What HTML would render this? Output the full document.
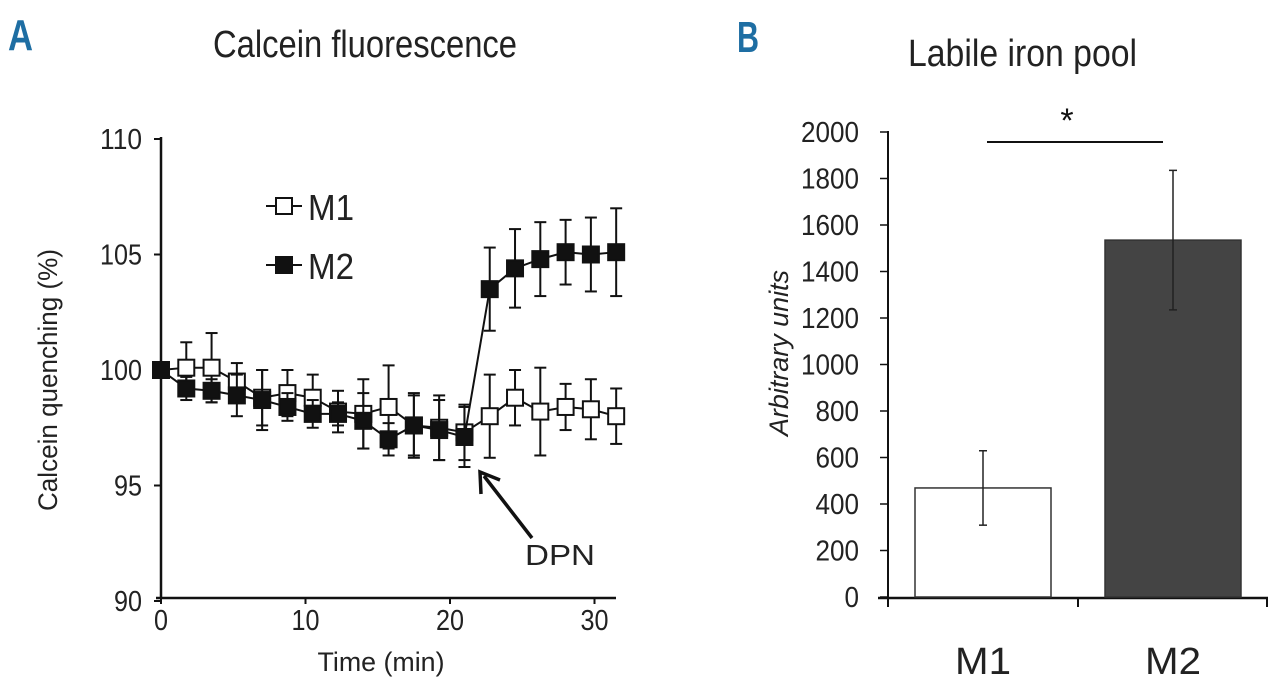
<!DOCTYPE html>
<html><head><meta charset="utf-8"><style>
html,body{margin:0;padding:0;background:#fff;}
svg{display:block;font-family:"Liberation Sans",sans-serif;}
</style></head><body>
<svg id="fig" width="1280" height="686" viewBox="0 0 1280 686">
<text x="8" y="50" font-size="44" font-weight="bold" fill="#1e6ea3" textLength="25" lengthAdjust="spacingAndGlyphs">A</text>
<text x="737" y="52" font-size="44" font-weight="bold" fill="#1e6ea3" textLength="22" lengthAdjust="spacingAndGlyphs">B</text>
<text x="213" y="57" font-size="38" fill="#222" textLength="304" lengthAdjust="spacingAndGlyphs">Calcein fluorescence</text>
<text x="908" y="66" font-size="38" fill="#222" textLength="229" lengthAdjust="spacingAndGlyphs">Labile iron pool</text>
<g id="ga"></g><g id="gb"></g>
</svg>
<script>
const times=[0,1.75,3.5,5.25,7,8.75,10.5,12.25,14,15.75,17.5,19.25,21,22.75,24.5,26.25,28,29.75,31.5];
const m1Vals=[100,100.1,100.1,99.5,98.8,99.0,98.8,98.2,98.1,98.4,97.6,97.5,97.3,98.0,98.8,98.2,98.4,98.3,98.0];
const m1Err=[0,1.1,1.5,0.8,1.2,1.0,1.0,0.9,1.5,1.8,1.3,1.4,1.2,1.8,1.2,1.9,1.0,1.3,1.2];
const m2Vals=[100,99.2,99.1,98.9,98.7,98.4,98.1,98.1,97.8,97.0,97.6,97.4,97.1,103.5,104.4,104.8,105.1,105.0,105.1];
const m2Err=[0,0.5,0.5,0.9,1.3,0.6,0.6,0.5,1.2,0.7,1.4,1.3,1.3,1.8,1.7,1.6,1.4,1.6,1.9];
const yTicksA=[90,95,100,105,110];
const xTicksA=[0,10,20,30];
const barCats=["M1","M2"];
const barVals=[469,1535];
const barErr=[160,300];
const yTicksB=[0,200,400,600,800,1000,1200,1400,1600,1800,2000];

const NS="http://www.w3.org/2000/svg";
function mk(p,tag,attrs,txt){const e=document.createElementNS(NS,tag);for(const k in attrs)e.setAttribute(k,attrs[k]);if(txt!==undefined)e.textContent=txt;p.appendChild(e);return e;}
const ga=document.getElementById('ga'), gb=document.getElementById('gb');
// Chart A
const xA=t=>161+t*14.45, yA=v=>370-(v-100)*23.1;
let e;
e=mk(ga,'line',{x1:156,y1:598,x2:616,y2:598,stroke:'#111','stroke-width':2.5});

e=mk(ga,'line',{x1:161,y1:137,x2:161,y2:598,stroke:'#111','stroke-width':2.5});

yTicksA.forEach(v=>{const s=String(v);mk(ga,'line',{x1:154,y1:yA(v),x2:161,y2:yA(v),stroke:'#111','stroke-width':2});
 e=mk(ga,'text',{x:142,y:yA(v)+10,'font-size':29,'text-anchor':'end',fill:'#222',textLength:s.length*14,lengthAdjust:'spacingAndGlyphs'},s);
 });
xTicksA.forEach(t=>{const s=String(t);mk(ga,'line',{x1:xA(t),y1:598,x2:xA(t),y2:604,stroke:'#111','stroke-width':2});
 e=mk(ga,'text',{x:xA(t),y:630,'font-size':29,'text-anchor':'middle',fill:'#222',textLength:s.length*14,lengthAdjust:'spacingAndGlyphs'},s);
 });
e=mk(ga,'text',{x:381,y:671,'font-size':27,'text-anchor':'middle',fill:'#222',textLength:127,lengthAdjust:'spacingAndGlyphs'},'Time (min)');

e=mk(ga,'text',{x:0,y:0,'font-size':27,'text-anchor':'middle',fill:'#222',transform:'translate(57,380) rotate(-90)',textLength:262,lengthAdjust:'spacingAndGlyphs'},'Calcein quenching (%)');

function series(vals,errs,fill,name){
 const g=mk(ga,'g',{});
 mk(g,'polyline',{points:times.map((t,i)=>xA(t)+','+yA(vals[i])).join(' '),fill:'none',stroke:'#111','stroke-width':2});
 times.forEach((t,i)=>{const x=xA(t),y1=yA(vals[i]+errs[i]),y2=yA(vals[i]-errs[i]);
  if(errs[i]>0){mk(g,'line',{x1:x,y1:y1,x2:x,y2:y2,stroke:'#111','stroke-width':2});
  mk(g,'line',{x1:x-6,y1:y1,x2:x+6,y2:y1,stroke:'#111','stroke-width':2});
  mk(g,'line',{x1:x-6,y1:y2,x2:x+6,y2:y2,stroke:'#111','stroke-width':2});}});
 times.forEach((t,i)=>{const r=mk(g,'rect',{x:xA(t)-8,y:yA(vals[i])-8,width:16,height:16,fill:fill,stroke:'#111','stroke-width':2});
  });
}
series(m1Vals,m1Err,'#fff','series-m1');
series(m2Vals,m2Err,'#111','series-m2');
// legend
[[206,'#fff','M1'],[265,'#111','M2']].forEach(([y,f,l])=>{
 const g=mk(ga,'g',{});
 mk(g,'line',{x1:266,y1:y,x2:302,y2:y,stroke:'#111','stroke-width':2});
 mk(g,'rect',{x:276,y:y-8,width:16,height:16,fill:f,stroke:'#111','stroke-width':2});
 mk(g,'text',{x:308,y:y+14,'font-size':36,fill:'#222',textLength:46,lengthAdjust:'spacingAndGlyphs'},l);});
// DPN arrow
e=mk(ga,'g',{});
mk(e,'line',{x1:532,y1:538,x2:484,y2:476,stroke:'#111','stroke-width':3.5});
mk(e,'polyline',{points:'481,494 480,472 500,480',fill:'none',stroke:'#111','stroke-width':3.5});
e=mk(ga,'text',{x:525,y:565,'font-size':29,fill:'#222',textLength:70,lengthAdjust:'spacingAndGlyphs'},'DPN');

// Chart B
const yB=v=>597-v*0.2325, xB=i=>983+i*190;
e=mk(gb,'line',{x1:888,y1:131,x2:888,y2:597,stroke:'#111','stroke-width':2});

e=mk(gb,'line',{x1:878,y1:598,x2:1268,y2:598,stroke:'#111','stroke-width':2.5});

[888,1078,1267].forEach(x=>mk(gb,'line',{x1:x,y1:598,x2:x,y2:607,stroke:'#111','stroke-width':2}));
yTicksB.forEach(v=>{const s=String(v);mk(gb,'line',{x1:880,y1:yB(v),x2:888,y2:yB(v),stroke:'#111','stroke-width':1.5});
 e=mk(gb,'text',{x:859,y:yB(v)+10,'font-size':29,'text-anchor':'end',fill:'#222',textLength:s.length*14.5,lengthAdjust:'spacingAndGlyphs'},s);
 });
e=mk(gb,'text',{x:0,y:0,'font-size':27,'font-style':'italic','text-anchor':'middle',fill:'#222',transform:'translate(788,353) rotate(-90)',textLength:166,lengthAdjust:'spacingAndGlyphs'},'Arbitrary units');

barCats.forEach((c,i)=>{const x=xB(i);
 e=mk(gb,'rect',{x:x-68,y:yB(barVals[i]),width:136,height:597-yB(barVals[i]),fill:i?'#444':'#fff',stroke:'#333','stroke-width':1.5});
 
 const t=yB(barVals[i]+barErr[i]),b=yB(barVals[i]-barErr[i]);
 mk(gb,'line',{x1:x,y1:t,x2:x,y2:b,stroke:'#222','stroke-width':1.5});
 mk(gb,'line',{x1:x-4,y1:t,x2:x+4,y2:t,stroke:'#222','stroke-width':1.5});
 mk(gb,'line',{x1:x-4,y1:b,x2:x+4,y2:b,stroke:'#222','stroke-width':1.5});
 e=mk(gb,'text',{x:x,y:674,'font-size':38,'text-anchor':'middle',fill:'#222',textLength:56,lengthAdjust:'spacingAndGlyphs'},c);
 });
e=mk(gb,'line',{x1:987,y1:142,x2:1163,y2:142,stroke:'#111','stroke-width':2});

e=mk(gb,'text',{x:1067,y:132,'font-size':34,'text-anchor':'middle',fill:'#111'},'*');

</script>
</body></html>
